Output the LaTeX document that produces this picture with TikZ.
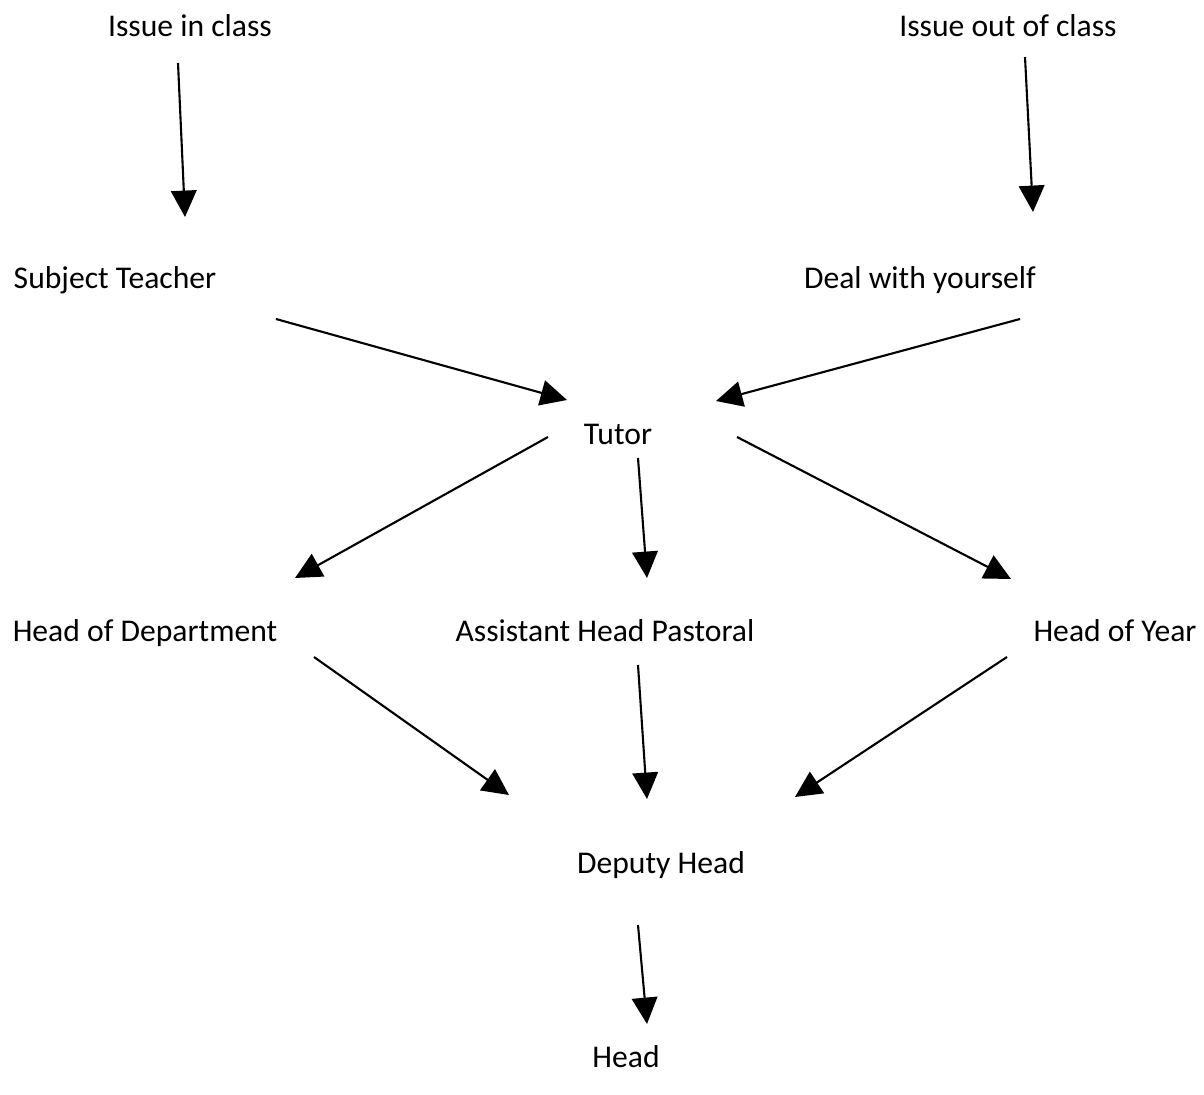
\documentclass[tikz,border=0pt]{standalone}
\usepackage{fontspec}
\setmainfont{Carlito}
\usepackage{tikz}
\usetikzlibrary{arrows.meta,positioning}

\begin{document}
\begin{tikzpicture}[x=0.025cm,y=-0.025cm,
    every node/.style={anchor=base,inner sep=0pt,font=\fontsize{22.5}{27}\selectfont},
    flow/.style={-{Triangle[length=0.66cm,width=0.64cm]},line width=1.5pt}]
                            \useasboundingbox (0,0) rectangle (1204,1095);
                            \node (in)    at (190,37)   {Issue in class};
                            \node (out)   at (1008,37)  {Issue out of class};
                            \node (subj)  at (115,289)  {Subject Teacher};
                            \node (self)  at (920,289)  {Deal with yourself};
                            \node (tutor) at (618,445)  {Tutor};
                            \node (hod)   at (145,641)  {Head of Department};
                            \node (ahp)   at (605,641)  {Assistant Head Pastoral};
                            \node (hoy)   at (1115,641) {Head of Year};
                            \node (dep)   at (661,873)  {Deputy Head};
                            \node (head)  at (626,1067) {Head};
                            % connector ends
                            \coordinate (in-s)    at (178,63);
                            \coordinate (subj-n)  at (185,217);
                            \coordinate (out-s)   at (1025,57);
                            \coordinate (self-n)  at (1033,212);
                            \coordinate (subj-e)  at (276,319);
                            \coordinate (self-w)  at (1020,319);
                            \coordinate (tutor-w) at (567,400);
                            \coordinate (tutor-e) at (716,401);
                            \coordinate (tutor-l) at (548,437);
                            \coordinate (tutor-s) at (638,458);
                            \coordinate (tutor-r) at (737,437);
                            \coordinate (hod-n)   at (295,578);
                            \coordinate (ahp-n)   at (647,578);
                            \coordinate (hoy-n)   at (1011,579);
                            \coordinate (hod-s)   at (314,657);
                            \coordinate (ahp-s)   at (638,665);
                            \coordinate (hoy-s)   at (1007,657);
                            \coordinate (dep-l)   at (509,795);
                            \coordinate (dep-n)   at (647,799);
                            \coordinate (dep-r)   at (795,797);
                            \coordinate (dep-s)   at (638,925);
                            \coordinate (head-n)  at (647,1024);
                            \path[flow]
                            (in-s) edge (subj-n)
                            (out-s) edge (self-n)
                            (subj-e) edge (tutor-w)
                            (self-w) edge (tutor-e)
                            (tutor-l) edge (hod-n)
                            (tutor-s) edge (ahp-n)
                            (tutor-r) edge (hoy-n)
                            (hod-s) edge (dep-l)
                            (ahp-s) edge (dep-n)
                            (hoy-s) edge (dep-r)
                            (dep-s) edge (head-n);
                        \end{tikzpicture}
\end{document}
